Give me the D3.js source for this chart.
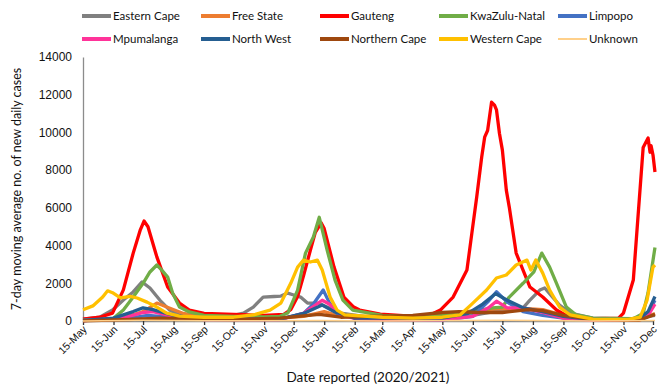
<!DOCTYPE html>
<html lang="en">
<head>
    <meta charset="UTF-8">
    <title>7-day moving average of new daily cases by province</title>
    <style>
        body { margin: 0; background: #fff; }
        svg { font-family: Lato, "Open Sans", sans-serif; }
        .tick text { fill: #111; }
    </style>
    <script src="https://d3js.org/d3.v7.min.js"></script>
</head>
<body>
    <div id="chart"></div>
    <script>
        // series values: [date, 7-day average]
        const easternCape = [["2020-05-15",100],["2020-06-01",200],["2020-06-14",580],["2020-06-25",1110],["2020-07-05",1540],["2020-07-14",2070],["2020-07-22",1750],["2020-08-01",1110],["2020-08-11",580],["2020-08-21",320],["2020-09-15",250],["2020-10-15",300],["2020-10-25",420],["2020-11-04",740],["2020-11-14",1270],["2020-11-25",1300],["2020-12-02",1320],["2020-12-09",1480],["2020-12-15",1380],["2020-12-22",1270],["2020-12-29",950],["2021-01-08",950],["2021-01-18",740],["2021-02-01",420],["2021-03-01",200],["2021-05-15",150],["2021-06-15",300],["2021-07-15",580],["2021-08-05",700],["2021-08-12",1110],["2021-08-22",1640],["2021-08-27",1750],["2021-09-04",1270],["2021-09-11",850],["2021-09-22",420],["2021-10-15",150],["2021-11-20",100],["2021-12-17",300]];
        const freeState = [["2020-05-15",20],["2020-06-25",150],["2020-07-15",500],["2020-07-29",950],["2020-08-10",700],["2020-08-25",400],["2020-09-15",200],["2020-10-15",150],["2020-12-01",150],["2020-12-25",250],["2021-01-15",500],["2021-01-28",300],["2021-02-20",150],["2021-04-15",120],["2021-05-15",200],["2021-06-15",550],["2021-07-10",650],["2021-08-10",650],["2021-08-25",600],["2021-09-15",300],["2021-10-15",100],["2021-12-01",60],["2021-12-17",400]];
        const gauteng = [["2020-05-15",100],["2020-06-01",200],["2020-06-14",420],["2020-06-25",1650],["2020-07-05",3600],["2020-07-12",4800],["2020-07-16",5300],["2020-07-20",5000],["2020-07-29",3400],["2020-08-09",1800],["2020-08-21",950],["2020-08-31",580],["2020-09-15",400],["2020-10-15",350],["2020-11-15",300],["2020-12-05",350],["2020-12-12",600],["2020-12-19",1300],["2020-12-25",2400],["2021-01-01",3760],["2021-01-06",4700],["2021-01-12",5200],["2021-01-15",4900],["2021-01-25",2860],["2021-02-04",1270],["2021-02-14",740],["2021-02-20",580],["2021-03-13",370],["2021-04-13",260],["2021-05-01",280],["2021-05-13",580],["2021-05-26",1270],["2021-06-09",2700],["2021-06-14",4660],["2021-06-19",6600],["2021-06-24",8700],["2021-06-27",9750],["2021-06-30",10100],["2021-07-04",11600],["2021-07-07",11450],["2021-07-09",11200],["2021-07-12",9960],["2021-07-15",9060],["2021-07-19",6940],["2021-07-22",6040],["2021-07-29",3600],["2021-08-12",1800],["2021-08-25",1270],["2021-09-08",580],["2021-09-21",200],["2021-10-15",130],["2021-11-10",150],["2021-11-15",420],["2021-11-25",2170],["2021-11-30",5700],["2021-12-05",9200],["2021-12-10",9700],["2021-12-12",8950],["2021-12-13",9300],["2021-12-15",8800],["2021-12-17",7900]];
        const kwazuluNatal = [["2020-05-15",50],["2020-06-14",100],["2020-06-25",580],["2020-07-05",1270],["2020-07-15",2000],["2020-07-22",2600],["2020-07-29",2970],["2020-08-03",2700],["2020-08-09",2330],["2020-08-14",1480],["2020-08-21",740],["2020-08-31",480],["2020-09-15",300],["2020-10-15",250],["2020-11-15",220],["2020-12-01",250],["2020-12-09",420],["2020-12-19",1640],["2020-12-27",3600],["2021-01-04",4450],["2021-01-10",5500],["2021-01-18",3760],["2021-01-26",2170],["2021-02-03",1110],["2021-02-13",580],["2021-03-15",300],["2021-04-15",250],["2021-05-15",300],["2021-06-15",500],["2021-07-05",700],["2021-07-15",740],["2021-07-22",1270],["2021-08-05",2000],["2021-08-16",2600],["2021-08-24",3600],["2021-09-01",2860],["2021-09-08",2000],["2021-09-18",740],["2021-09-28",320],["2021-10-15",150],["2021-11-25",120],["2021-12-05",400],["2021-12-10",1500],["2021-12-17",3900]];
        const limpopo = [["2020-05-15",20],["2020-07-01",150],["2020-07-20",300],["2020-08-10",200],["2020-09-15",80],["2020-12-01",80],["2020-12-25",400],["2021-01-04",900],["2021-01-14",1640],["2021-01-20",1000],["2021-01-28",400],["2021-02-20",100],["2021-05-15",50],["2021-06-15",250],["2021-06-30",1000],["2021-07-09",1550],["2021-07-20",1000],["2021-08-05",500],["2021-08-25",300],["2021-09-15",150],["2021-10-15",40],["2021-12-01",60],["2021-12-10",400],["2021-12-17",1100]];
        const mpumalanga = [["2020-05-15",20],["2020-06-20",100],["2020-07-15",450],["2020-07-25",500],["2020-08-10",300],["2020-09-15",80],["2020-12-01",80],["2020-12-25",400],["2021-01-13",1100],["2021-01-20",900],["2021-02-01",300],["2021-02-20",80],["2021-05-15",60],["2021-06-15",250],["2021-07-01",700],["2021-07-09",1050],["2021-07-20",700],["2021-08-05",700],["2021-08-25",450],["2021-09-15",150],["2021-10-15",40],["2021-12-01",50],["2021-12-10",300],["2021-12-17",900]];
        const northWest = [["2020-05-15",30],["2020-06-15",150],["2020-07-05",500],["2020-07-15",700],["2020-07-25",600],["2020-08-15",300],["2020-09-15",100],["2020-12-01",100],["2020-12-25",400],["2021-01-13",850],["2021-01-25",500],["2021-02-15",150],["2021-05-15",150],["2021-06-10",400],["2021-06-25",900],["2021-07-08",1450],["2021-07-20",1100],["2021-08-05",700],["2021-08-25",500],["2021-09-15",250],["2021-10-15",80],["2021-12-01",100],["2021-12-10",500],["2021-12-17",1300]];
        const northernCape = [["2020-05-15",10],["2020-07-01",80],["2020-08-01",150],["2020-09-01",100],["2020-10-15",80],["2020-12-01",150],["2021-01-10",350],["2021-02-01",200],["2021-03-01",250],["2021-04-15",300],["2021-05-15",450],["2021-06-01",500],["2021-06-20",450],["2021-07-15",450],["2021-08-10",600],["2021-08-25",550],["2021-09-15",300],["2021-10-15",80],["2021-12-01",40],["2021-12-17",350]];
        const westernCape = [["2020-05-15",600],["2020-05-25",800],["2020-06-04",1270],["2020-06-09",1600],["2020-06-14",1500],["2020-06-22",1220],["2020-07-02",1300],["2020-07-09",1220],["2020-07-19",1000],["2020-07-29",740],["2020-08-08",420],["2020-08-21",260],["2020-09-15",200],["2020-10-15",200],["2020-11-04",320],["2020-11-21",580],["2020-12-02",950],["2020-12-12",2000],["2020-12-19",2860],["2020-12-25",3230],["2021-01-01",3130],["2021-01-08",3230],["2021-01-13",2700],["2021-01-21",1270],["2021-01-28",580],["2021-02-05",320],["2021-03-15",200],["2021-04-15",150],["2021-05-15",200],["2021-06-02",320],["2021-06-15",950],["2021-06-29",1640],["2021-07-09",2280],["2021-07-19",2440],["2021-07-29",2970],["2021-08-09",3230],["2021-08-13",2700],["2021-08-18",3230],["2021-08-25",2540],["2021-09-01",1640],["2021-09-11",740],["2021-09-22",320],["2021-10-15",100],["2021-11-20",80],["2021-12-02",200],["2021-12-09",1110],["2021-12-15",2860],["2021-12-17",2970]];
        const unknown = [["2020-05-15",0],["2020-07-15",40],["2020-09-15",10],["2021-01-10",30],["2021-03-15",5],["2021-07-10",40],["2021-10-15",5],["2021-12-17",20]];

        const provinces = ["Eastern Cape", "Free State", "Gauteng", "KwaZulu-Natal", "Limpopo",
                           "Mpumalanga", "North West", "Northern Cape", "Western Cape", "Unknown"];
        const colors = ["#808080", "#ED7D31", "#FF0000", "#70AD47", "#4472C4",
                        "#FF3399", "#255E91", "#9E480E", "#FFC000", "#FFD08A"];
        const seriesData = [easternCape, freeState, gauteng, kwazuluNatal, limpopo,
                            mpumalanga, northWest, northernCape, westernCape, unknown];

        const yTicks = [0, 2000, 4000, 6000, 8000, 10000, 12000, 14000];
        const xTickDates = ["2020-05-15","2020-06-15","2020-07-15","2020-08-15","2020-09-15","2020-10-15",
                            "2020-11-15","2020-12-15","2021-01-15","2021-02-15","2021-03-15","2021-04-15",
                            "2021-05-15","2021-06-15","2021-07-15","2021-08-15","2021-09-15","2021-10-15",
                            "2021-11-15","2021-12-15"];

        const width = 659;
        const height = 386;
        const plot = { left: 83, right: 653, top: 57, bottom: 321 };
        const parse = d3.timeParse("%Y-%m-%d");

        const svg = d3.select("#chart").append("svg")
            .attr("width", width)
            .attr("height", height);

        const x = d3.scaleTime()
            .domain([parse("2020-05-15"), parse("2021-12-15")])
            .range([plot.left, plot.right]);

        const y = d3.scaleLinear()
            .domain([0, 14000])
            .range([plot.bottom, plot.top]);

        // y axis
        const yAxis = svg.append("g")
            .attr("transform", `translate(${plot.left},0)`)
            .call(d3.axisLeft(y).tickValues(yTicks).tickSize(0).tickPadding(11).tickFormat(d3.format("d")));
        yAxis.select(".domain").attr("stroke", "#8c8c8c").attr("stroke-width", 1.3);
        yAxis.selectAll("text").attr("font-size", 12);

        // x axis
        const xAxis = svg.append("g")
            .attr("transform", `translate(0,${plot.bottom})`)
            .call(d3.axisBottom(x).tickValues(xTickDates.map(parse)).tickSize(4).tickSizeOuter(0)
                .tickFormat(d3.timeFormat("%d-%b")));
        xAxis.select(".domain").attr("stroke", "#8c8c8c").attr("stroke-width", 1.3);
        xAxis.selectAll(".tick line").attr("stroke", "#333").attr("stroke-width", 1.3);
        xAxis.selectAll("text")
            .attr("font-size", 10.5)
            .attr("text-anchor", "end")
            .attr("dy", null)
            .attr("y", 0)
            .attr("transform", "translate(4,9) rotate(-45)");

        // lines
        const line = d3.line()
            .x(d => x(parse(d[0])))
            .y(d => y(d[1]));

        svg.append("g")
            .selectAll("path")
            .data(seriesData)
            .join("path")
            .attr("fill", "none")
            .attr("stroke", (d, i) => colors[i])
            .attr("stroke-width", (d, i) => i === 9 ? 1.5 : 3.3)
            .attr("stroke-linejoin", "round")
            .attr("d", line);

        // legend
        const legend = svg.append("g")
            .selectAll("g")
            .data(provinces)
            .join("g")
            .attr("transform", (d, i) => `translate(${82 + (i % 5) * 119},${i < 5 ? 16 : 39})`);

        legend.append("line")
            .attr("x1", 0).attr("x2", 29)
            .attr("stroke", (d, i) => colors[i])
            .attr("stroke-width", (d, i) => i === 9 ? 2 : 4);

        legend.append("text")
            .attr("x", 31)
            .attr("dy", "0.35em")
            .attr("font-size", 11.5)
            .attr("fill", "#111")
            .text(d => d);

        // axis titles
        svg.append("text")
            .attr("transform", `translate(21,${(plot.top + plot.bottom) / 2}) rotate(-90)`)
            .attr("text-anchor", "middle")
            .attr("font-size", 12.5)
            .attr("fill", "#111")
            .text("7-day moving average no. of new daily cases");

        svg.append("text")
            .attr("x", 368)
            .attr("y", 382)
            .attr("text-anchor", "middle")
            .attr("font-size", 13.5)
            .attr("fill", "#111")
            .text("Date reported (2020/2021)");
    </script>
</body>
</html>
